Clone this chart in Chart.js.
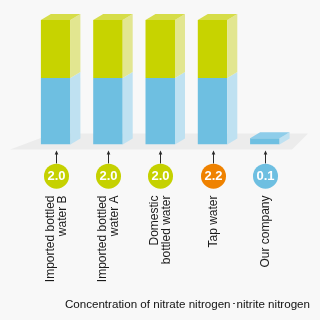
<!DOCTYPE html>
<html>
<head>
<meta charset="utf-8">
<script src="https://cdn.jsdelivr.net/npm/chart.js@4/dist/chart.umd.min.js"></script>
<style>
  html, body { margin: 0; padding: 0; background: #f8f8f8; }
  #wrap { width: 320px; height: 320px; }
</style>
</head>
<body>
<div id="wrap"><canvas id="nitrateChart" width="320" height="320"></canvas></div>
<script>
// ===== Data =====
const categories = [
  ['Imported bottled', 'water B'],
  ['Imported bottled', 'water A'],
  ['Domestic', 'bottled water'],
  ['Tap water'],
  ['Our company']
];
const totals = [2.0, 2.0, 2.0, 2.2, 0.1];
const lowerPart = [1.07, 1.07, 1.07, 1.07, 0.1];
const upperPart = [0.93, 0.93, 0.93, 1.13, 0];
const bubbleColors = ['#c5d100', '#c5d100', '#c5d100', '#ef8200', '#6ebfe1'];
const axisTitle = 'Concentration of nitrate nitrogen\uFF65nitrite nitrogen';

// front / side / top face colours per segment
const faces = {
  lower: { front: '#6ebfe1', side: '#bfe1f1', top: '#8ecdea' },
  upper: { front: '#c7d300', side: '#e2e690', top: '#d6dd48' }
};
const DEPTH_X = 10;
const DEPTH_Y = 6;

// ===== Plugins =====
const backdrop = {
  id: 'backdrop',
  beforeDraw(chart) {
    const { ctx, width, height } = chart;
    ctx.save();
    ctx.fillStyle = '#f8f8f8';
    ctx.fillRect(0, 0, width, height);
    ctx.restore();
  },
  beforeDatasetsDraw(chart) {
    // light grey floor under the columns
    const { ctx, chartArea: a } = chart;
    ctx.save();
    ctx.fillStyle = '#ececec';
    ctx.beginPath();
    ctx.moveTo(a.left - 19.5, a.bottom + 5);
    ctx.lineTo(a.left + 23.5, a.bottom - 11);
    ctx.lineTo(a.right + 17, a.bottom - 11);
    ctx.lineTo(a.right + 1, a.bottom + 5);
    ctx.closePath();
    ctx.fill();
    ctx.restore();
  }
};

function poly(ctx, pts, color) {
  ctx.fillStyle = color;
  ctx.beginPath();
  ctx.moveTo(pts[0][0], pts[0][1]);
  for (let i = 1; i < pts.length; i++) ctx.lineTo(pts[i][0], pts[i][1]);
  ctx.closePath();
  ctx.fill();
}

const columns3d = {
  id: 'columns3d',
  afterDatasetsDraw(chart) {
    const { ctx, chartArea: a } = chart;
    const lower = chart.getDatasetMeta(0).data;
    const upper = chart.getDatasetMeta(1).data;
    ctx.save();
    lower.forEach((bar, i) => {
      const segs = [[bar, faces.lower, lowerPart[i]], [upper[i], faces.upper, upperPart[i]]]
        .filter((s) => s[2] > 0);
      segs.forEach(([el, col], k) => {
        const l = el.x - el.width / 2;
        const r = el.x + el.width / 2;
        const top = Math.max(el.y, a.top);
        const bot = el.base;
        // right side face
        poly(ctx, [[r, top], [r + DEPTH_X, top - DEPTH_Y], [r + DEPTH_X, bot - DEPTH_Y], [r, bot]], col.side);
        if (k === segs.length - 1) {
          poly(ctx, [[l, top], [l + DEPTH_X, top - DEPTH_Y], [r + DEPTH_X, top - DEPTH_Y], [r, top]], col.top);
        }
      });
    });
    ctx.restore();
  }
};

const valueMarkers = {
  id: 'valueMarkers',
  afterDraw(chart) {
    const { ctx, chartArea: a } = chart;
    const xs = chart.scales.x;
    ctx.save();
    categories.forEach((lines, i) => {
      const x = Math.round(xs.getPixelForTick(i)) + 0.5;
      // pointer line with arrow head
      ctx.strokeStyle = '#2a2a2a';
      ctx.lineWidth = 1;
      ctx.beginPath();
      ctx.moveTo(x, a.bottom + 8);
      ctx.lineTo(x, a.bottom + 19);
      ctx.stroke();
      poly(ctx, [[x, a.bottom + 6], [x - 1.8, a.bottom + 10], [x + 1.8, a.bottom + 10]], '#2a2a2a');

      // value bubble
      const cy = a.bottom + 31.7;
      ctx.fillStyle = bubbleColors[i];
      ctx.beginPath();
      ctx.arc(x, cy, 12.5, 0, Math.PI * 2);
      ctx.fill();
      ctx.fillStyle = '#ffffff';
      ctx.font = 'bold 13px "Liberation Sans", Arial, sans-serif';
      ctx.textAlign = 'center';
      ctx.textBaseline = 'middle';
      ctx.fillText(totals[i].toFixed(1), x, cy + 0.5);

      // rotated category label
      ctx.fillStyle = '#1a1a1a';
      ctx.font = '12px "Liberation Sans", Arial, sans-serif';
      ctx.textAlign = 'right';
      lines.forEach((t, j) => {
        const off = (j - (lines.length - 1) / 2) * 12.5;
        ctx.save();
        ctx.translate(x + off, a.bottom + 51);
        ctx.rotate(-Math.PI / 2);
        ctx.fillText(t, 0, 0);
        ctx.restore();
      });
    });
    ctx.restore();
  }
};

// ===== Chart =====
const ctx = document.getElementById('nitrateChart').getContext('2d');
const chart = new Chart(ctx, {
  type: 'bar',
  data: {
    labels: categories,
    datasets: [
      {
        label: 'lower',
        data: lowerPart,
        backgroundColor: faces.lower.front,
        barPercentage: 0.564,
        categoryPercentage: 1,
        clip: 0
      },
      {
        label: 'upper',
        data: upperPart,
        backgroundColor: faces.upper.front,
        barPercentage: 0.564,
        categoryPercentage: 1,
        clip: 0
      }
    ]
  },
  options: {
    responsive: false,
    animation: false,
    layout: { padding: { top: 20, left: 29.5, right: 10, bottom: 0 } },
    scales: {
      x: {
        stacked: true,
        grid: { display: false, drawTicks: false },
        border: { display: false },
        ticks: { display: false },
        afterFit: (s) => { s.height = 149.6; }
      },
      y: {
        stacked: true,
        position: 'right',
        min: 0,
        max: 2.0,
        grid: { display: false, drawTicks: false },
        border: { display: false },
        ticks: { display: false },
        afterFit: (s) => { s.width = 19; }
      }
    },
    plugins: {
      legend: { display: false },
      tooltip: { enabled: false },
      title: {
        display: true,
        position: 'bottom',
        align: 'end',
        text: axisTitle,
        color: '#111111',
        font: { family: '"Liberation Sans", Arial, sans-serif', size: 11.6, weight: 'normal' },
        padding: { top: 4, bottom: 8 }
      }
    }
  },
  plugins: [backdrop, columns3d, valueMarkers]
});
</script>
</body>
</html>
